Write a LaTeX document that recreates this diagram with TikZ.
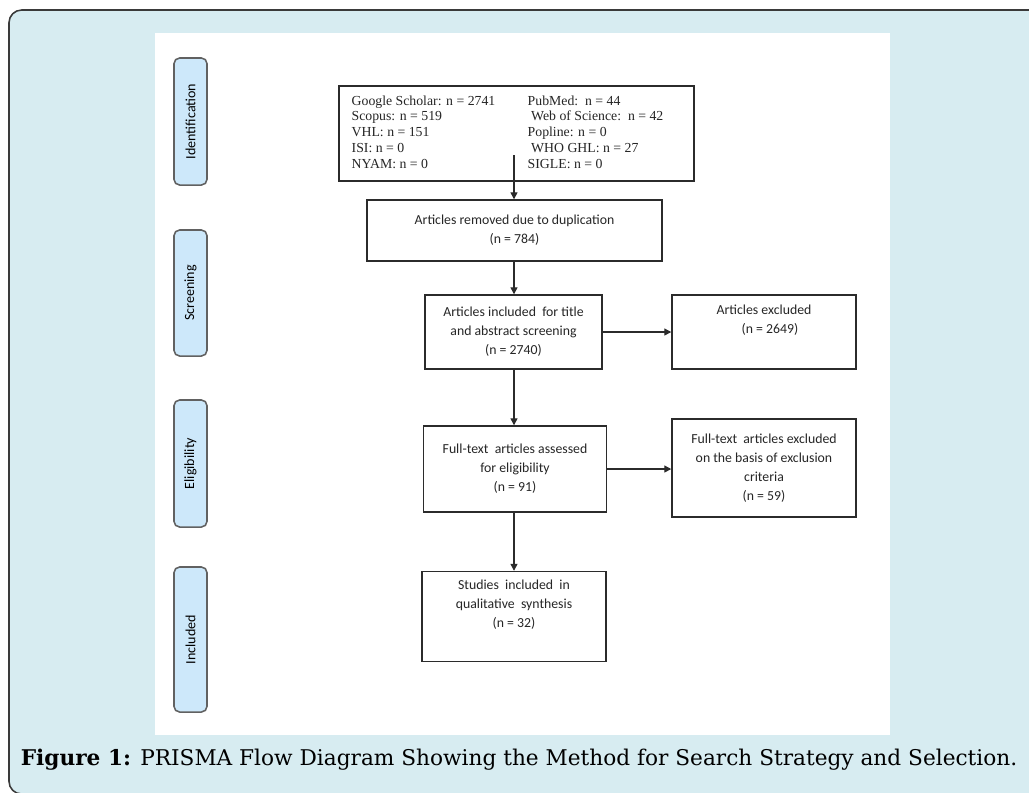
\documentclass[tikz,border=0pt]{standalone}
\usepackage{fontspec}
\usepackage{xcolor}
\usepackage{tikz}
\usetikzlibrary{arrows.meta, positioning, calc}
\setmainfont{Liberation Serif}
\newfontfamily\boxfont{Carlito}
\newfontfamily\capfont{DejaVu Serif}
\definecolor{pageblue}{HTML}{D7ECF1}
\definecolor{phaseblue}{HTML}{CDE8FA}
\definecolor{lineink}{HTML}{2B2B2B}
\definecolor{frameink}{HTML}{3A3A3A}

\begin{document}
\begin{tikzpicture}[
    x=0.025cm, y=-0.025cm,
    flowbox/.style={rectangle, draw=lineink, line width=1pt, fill=white, minimum width=#1, font=\boxfont\fontsize{9.8}{13.5}\selectfont, text=black!85, align=center, inner sep=2pt},
    phase/.style={rectangle, rounded corners=4pt, draw=frameink!80, line width=1.1pt, fill=phaseblue, rotate=90, minimum height=0.825cm, minimum width=#1, font=\boxfont\fontsize{10}{11}\selectfont, inner sep=1pt},
    arrow/.style={-{Triangle[length=5pt, width=5pt]}, line width=0.9pt, color=lineink}
]
\useasboundingbox (0,0) rectangle (1029,792);
\clip (0,0) rectangle (1029,792);

% page background and white panel
\draw[rounded corners=9pt, fill=pageblue, draw=frameink, line width=1.1pt] (9,10) rectangle (1100,794);
\fill[white] (155,33) rectangle (890,735);

% phase labels
\node[phase=3.175cm] (ident) at (190.5,121.5) {Identification};
\node[phase=3.15cm] (screen) at (190.5,293) {Screening};
\node[phase=3.175cm] (elig) at (190.5,463.5) {Eligibility};
\node[phase=3.625cm] (incl) at (190.5,639.5) {Included};

% flow boxes
\node[flowbox=8.875cm, minimum height=2.375cm, font=\fontsize{9.8}{11.2}\selectfont, align=left] (sources) at (516.5,133.5) {%
\begin{tabular}{@{}p{4.4cm}@{}l@{}}
Google Scholar: n = 2741 & PubMed:\ \ n = 44\\
Scopus: n = 519 & \ Web of Science:\ \ n = 42\\
VHL: n = 151 & Popline: n = 0\\
ISI: n = 0 & \ WHO GHL: n = 27\\
NYAM: n = 0 & SIGLE: n = 0
\end{tabular}\hspace*{0.45cm}};
\coordinate (srcfoot) at (514,155);

\node[flowbox=7.375cm, minimum height=1.525cm] (dup) at (514.5,230.5) {Articles removed due to duplication\\(n = 784)};
\node[flowbox=4.425cm, minimum height=1.85cm] (titles) at (513.5,332) {Articles included\ \ for title\\and abstract screening\\(n = 2740)};
\node[flowbox=4.6cm, minimum height=1.85cm] (excl) at (764,332) {Articles excluded\\\hspace*{0.3cm}(n = 2649)\\\strut};
\node[flowbox=4.575cm, minimum height=2.15cm] (fulltext) at (515,469) {Full-text\ \ articles assessed\\for eligibility\\(n = 91)};
\node[flowbox=4.6cm, minimum height=2.45cm] (ftexcl) at (764,468) {Full-text\ \ articles excluded\\on the basis of exclusion\\criteria\\(n = 59)};
\node[flowbox=4.6cm, minimum height=2.25cm] (studies) at (514,616.5) {Studies\ \ included\ \ in\\qualitative\ \ synthesis\\(n = 32)\\\strut};

% connectors
\draw[arrow] (srcfoot) -- (srcfoot |- dup.north);
\draw[arrow] (dup.south -| srcfoot) -- (srcfoot |- titles.north);
\draw[arrow] (titles.south -| srcfoot) -- (srcfoot |- fulltext.north);
\draw[arrow] (fulltext.south -| srcfoot) -- (srcfoot |- studies.north);
\draw[arrow] (titles.east) -- (titles.east -| excl.west);
\draw[arrow] (fulltext.east) -- (fulltext.east -| ftexcl.west);

% caption
\node[font=\capfont\fontsize{15.4}{18}\selectfont, text=black] (caption) at (519,760) {\textbf{Figure 1:} PRISMA Flow Diagram Showing the Method for Search Strategy and Selection.};

\end{tikzpicture}
\end{document}
